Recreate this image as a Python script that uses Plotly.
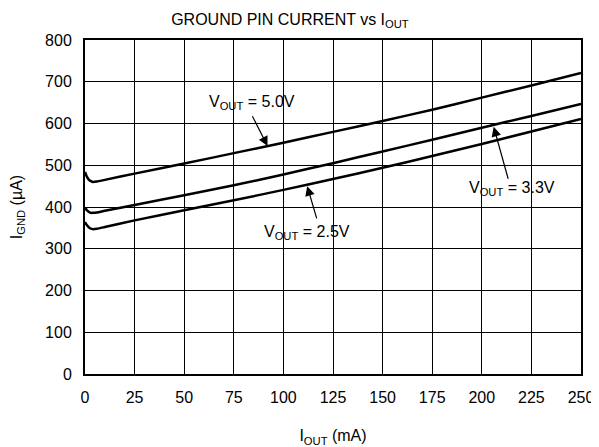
import plotly.graph_objects as go

iout = [0, 1, 2, 3, 4, 6, 10, 25, 50, 75, 100, 125, 150, 175, 200, 225, 250]
ignd_50 = [484, 472, 465, 462, 460, 461, 465, 480, 504, 529, 554, 580, 606, 633, 662, 691, 721]
ignd_33 = [398, 392, 388, 386, 386, 387, 391, 405, 428, 452, 478, 505, 533, 561, 590, 618, 647]
ignd_25 = [364, 356, 351, 348, 347, 348, 352, 368, 392, 416, 441, 467, 494, 522, 551, 581, 611]

x_ticks = [0, 25, 50, 75, 100, 125, 150, 175, 200, 225, 250]
y_ticks = [0, 100, 200, 300, 400, 500, 600, 700, 800]

FONT = "Liberation Sans, Arial, sans-serif"
FS = 16

fig = go.Figure()
for ys in (ignd_50, ignd_33, ignd_25):
    fig.add_trace(go.Scatter(x=iout, y=ys, mode="lines",
                             line=dict(color="black", width=2.5, shape="spline", smoothing=0.6),
                             showlegend=False, hoverinfo="skip"))

labels = [
    dict(text="V<sub>OUT</sub> = 5.0V", tx=84, ty=650, tip=(92, 546), tail=(84, 621)),
    dict(text="V<sub>OUT</sub> = 3.3V", tx=215, ty=445, tip=(206, 592), tail=(213.5, 464)),
    dict(text="V<sub>OUT</sub> = 2.5V", tx=112, ty=340, tip=(112, 450), tail=(117, 369)),
]
for lb in labels:
    fig.add_annotation(x=lb["tx"], y=lb["ty"], text=lb["text"], showarrow=False,
                       font=dict(family=FONT, size=FS, color="black"))
    fig.add_annotation(x=lb["tip"][0], y=lb["tip"][1], ax=lb["tail"][0], ay=lb["tail"][1],
                       axref="x", ayref="y", text="", showarrow=True,
                       arrowhead=2, arrowsize=1.6, arrowwidth=1.2, arrowcolor="black",
                       standoff=0, startstandoff=0)

axis_common = dict(showgrid=True, gridcolor="black", gridwidth=1,
                   showline=True, linecolor="black", linewidth=2, mirror=True,
                   ticks="", zeroline=False, automargin=False,
                   tickfont=dict(family=FONT, size=FS, color="black"))

fig.update_xaxes(range=[0, 250], tickvals=x_ticks, ticktext=[str(v) for v in x_ticks],
                 ticklabelstandoff=8,
                 title=dict(text="I<sub>OUT</sub> (mA)", font=dict(family=FONT, size=FS, color="black"), standoff=25),
                 **axis_common)
fig.update_yaxes(range=[0, 800], tickvals=y_ticks, ticktext=[str(v) for v in y_ticks],
                 ticklabelstandoff=8,
                 title=dict(text="I<sub>GND</sub> (µA)", font=dict(family=FONT, size=FS, color="black"), standoff=22),
                 **axis_common)

# page body adds an 8px offset; size the figure so the plot lands where the reference has it
fig.update_layout(
    width=591, height=439,
    margin=dict(l=77, r=18, t=32, b=73),
    plot_bgcolor="white", paper_bgcolor="white",
    title=dict(text="GROUND PIN CURRENT vs I<sub>OUT</sub>", x=0.477, xanchor="center", y=0.975, yanchor="middle",
               font=dict(family=FONT, size=FS, color="black")),
)

fig.write_html("out.html")
